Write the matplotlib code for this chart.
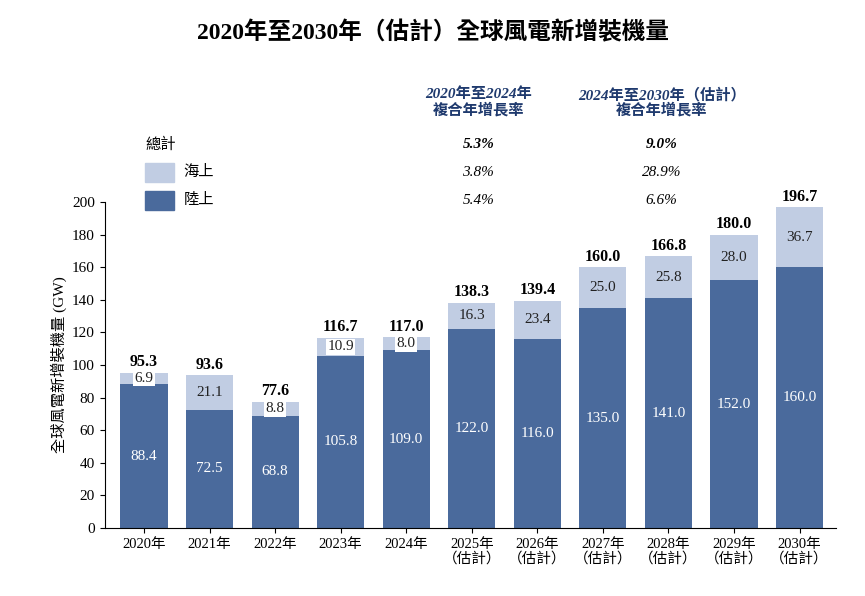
import matplotlib
matplotlib.use("Agg")
import matplotlib.pyplot as plt
import numpy as np

plt.rcParams['font.family'] = ['Liberation Serif', 'Noto Sans CJK TC']

years = ["2020年", "2021年", "2022年", "2023年", "2024年", "2025年\n（估計）", "2026年\n（估計）",
         "2027年\n（估計）", "2028年\n（估計）", "2029年\n（估計）", "2030年\n（估計）"]
onshore = [88.4, 72.5, 68.8, 105.8, 109.0, 122.0, 116.0, 135.0, 141.0, 152.0, 160.0]
offshore = [6.9, 21.1, 8.8, 10.9, 8.0, 16.3, 23.4, 25.0, 25.8, 28.0, 36.7]
totals = [95.3, 93.6, 77.6, 116.7, 117.0, 138.3, 139.4, 160.0, 166.8, 180.0, 196.7]

c_on = "#4a6a9c"
c_off = "#c1cde3"
c_head = "#1f3a6e"

fig = plt.figure(figsize=(8.65, 5.96), dpi=100)
ax = fig.add_axes([0.121, 0.114, 0.845, 0.547])
x = np.arange(len(years))
ax.bar(x, onshore, width=0.72, color=c_on)
ax.bar(x, offshore, width=0.72, bottom=onshore, color=c_off)

for i in x:
    ax.text(i, onshore[i] / 2, f"{onshore[i]:.1f}", ha='center', va='center', color='white', fontsize=11)
    box = dict(facecolor='white', edgecolor='none', pad=1) if offshore[i] < 12 else None
    ax.text(i, onshore[i] + offshore[i] / 2, f"{offshore[i]:.1f}", ha='center', va='center',
            color='#222222', fontsize=11, bbox=box)
    ax.text(i, totals[i] + 1.5, f"{totals[i]:.1f}", ha='center', va='bottom',
            fontsize=11.5, fontweight='bold')

ax.set_xlim(-0.6, len(years) - 0.45)
ax.set_ylim(0, 200)
ax.set_yticks(range(0, 201, 20))
ax.set_xticks(x)
ax.set_xticklabels(years, fontsize=10.5, linespacing=1.1)
ax.tick_params(axis='y', labelsize=11)
ax.spines['top'].set_visible(False)
ax.spines['right'].set_visible(False)
ax.set_ylabel("全球風電新增裝機量 (GW)", fontsize=11)

fig.text(0.5, 0.945, "2020年至2030年（估計）全球風電新增裝機量", ha='center', va='center',
         fontsize=17, fontweight='bold')

# legend
fig.text(0.168, 0.757, "總計", fontsize=11, va='center')
fig.patches.append(plt.Rectangle((0.168, 0.695), 0.033, 0.032, color=c_off, transform=fig.transFigure))
fig.text(0.212, 0.711, "海上", fontsize=11, va='center')
fig.patches.append(plt.Rectangle((0.168, 0.648), 0.033, 0.032, color=c_on, transform=fig.transFigure))
fig.text(0.212, 0.664, "陸上", fontsize=11, va='center')

# CAGR
heads = [(0.553, "2020年至2024年\n複合年增長率", ["5.3%", "3.8%", "5.4%"]),
         (0.765, "2024年至2030年（估計）\n複合年增長率", ["9.0%", "28.9%", "6.6%"])]
for xc, h, vals in heads:
    fig.text(xc, 0.828, h, ha='center', va='center', color=c_head, fontsize=11,
             fontweight='bold', style='italic', linespacing=1.1)
    fig.text(xc, 0.757, vals[0], ha='center', va='center', fontsize=11, fontweight='bold', style='italic')
    fig.text(xc, 0.711, vals[1], ha='center', va='center', fontsize=11, style='italic')
    fig.text(xc, 0.664, vals[2], ha='center', va='center', fontsize=11, style='italic')

fig.savefig("out.png", dpi=100)
